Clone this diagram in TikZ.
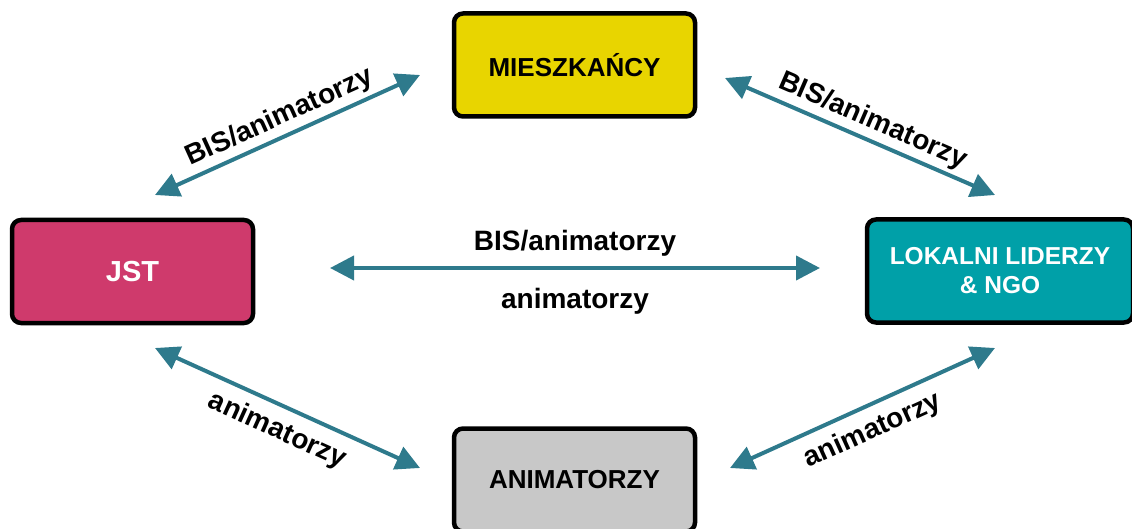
\documentclass[tikz,border=0pt]{standalone}
\usepackage{fontspec}
\setmainfont{Liberation Sans}
\usepackage{tikz}
\usetikzlibrary{arrows.meta,positioning,calc}

\definecolor{boxyellow}{HTML}{E8D500}
\definecolor{boxpink}{HTML}{CF3A6C}
\definecolor{boxteal}{HTML}{00A0A8}
\definecolor{boxgray}{HTML}{C8C8C8}
\definecolor{arrowteal}{HTML}{2E7A8C}

\begin{document}
\begin{tikzpicture}[
    x=1pt, y=-1pt,
    group/.style={rectangle, draw=black, line width=4.5pt, rounded corners=9pt, minimum width=241pt, minimum height=103pt, align=center, font=\fontsize{26}{30}\selectfont\bfseries},
    link/.style={{Triangle[length=24pt,width=24pt]}-{Triangle[length=24pt,width=24pt]}, line width=4pt, draw=arrowteal},
    tag/.style={font=\fontsize{28}{32}\selectfont\bfseries, inner sep=4pt}
]
\useasboundingbox (0,0) rectangle (1132,529);
\clip (0,0) rectangle (1132,529);

% Groups
\node[group, fill=boxyellow] (residents) at (574.5,65) {MIESZKAŃCY};
\node[group, fill=boxpink, text=white, font=\fontsize{29}{33}\selectfont\bfseries] (jst) at (132.5,271.5) {JST};
\node[group, fill=boxteal, text=white, font=\fontsize{24.5}{29}\selectfont\bfseries, minimum width=266pt] (leaders) at (1000,271) {LOKALNI LIDERZY\\ \& NGO};
\node[group, fill=boxgray] (animators) at (574.5,480) {ANIMATORZY};

% Arrow ends
\coordinate (jstN) at (155,195);
\coordinate (resW) at (420,75);
\coordinate (resE) at (725,78);
\coordinate (leaN) at (995,195);
\coordinate (jstE) at (330,268);
\coordinate (leaW) at (820,268);
\coordinate (jstS) at (155,348);
\coordinate (aniW) at (420,468);
\coordinate (aniE) at (730,468);
\coordinate (leaS) at (995,348);

% Connections
\draw[link] (jstN) -- node[tag, sloped, above] {BIS/animatorzy} (resW);
\draw[link] (resE) -- node[tag, sloped, above, pos=0.52] {BIS/animatorzy} (leaN);
\draw[link] (jstE) -- node[tag, above=6pt] {BIS/animatorzy} node[tag, below=14pt] {animatorzy} (leaW);
\draw[link] (jstS) -- node[tag, sloped, below=6pt] {animatorzy} (aniW);
\draw[link] (aniE) -- node[tag, sloped, below=6pt] {animatorzy} (leaS);

\end{tikzpicture}
\end{document}
